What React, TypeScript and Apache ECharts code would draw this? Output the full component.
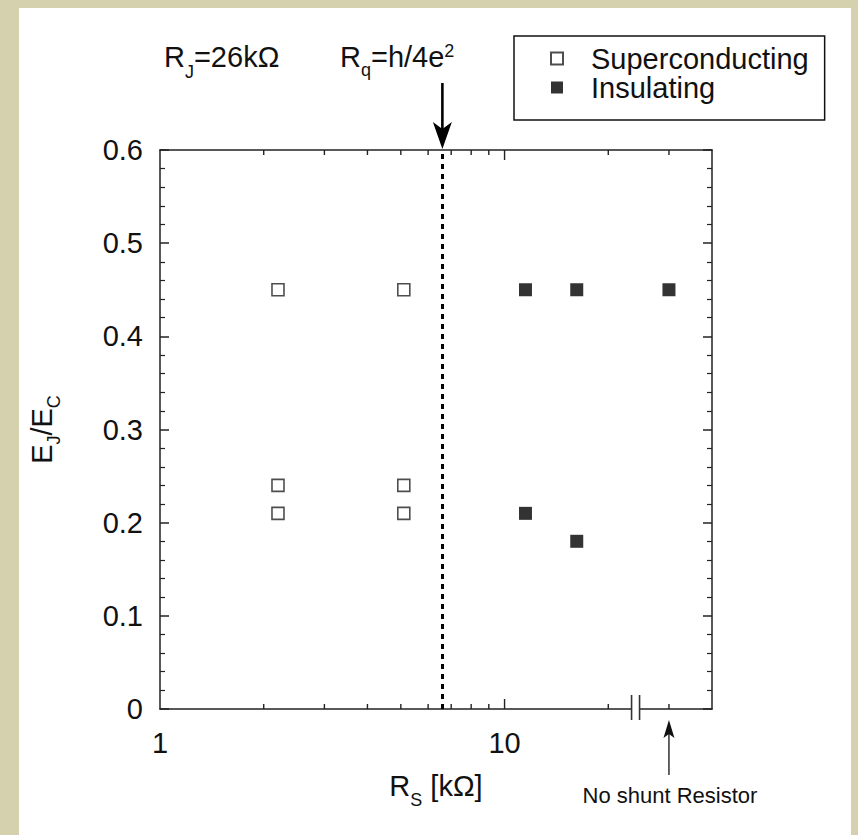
import { useEffect, useRef } from "react";
import * as echarts from "echarts";

// ---------------- data ----------------
const seriesNames = ["Superconducting", "Insulating"];
const superX = [2.2, 2.2, 2.2, 5.1, 5.1, 5.1];
const superY = [0.45, 0.24, 0.21, 0.45, 0.24, 0.21];
const insulX = [11.5, 16.2, 30, 11.5, 16.2];
const insulY = [0.45, 0.45, 0.45, 0.21, 0.18];

const xMin = 1;
const xMax = 40;
const yMin = 0;
const yMax = 0.6;
const yStep = 0.1;
const xLabelValues = [1, 10];
const xMinorTickValues = [2, 3, 4, 5, 6, 7, 8, 9, 20, 30];
const xMajorTickValues = [10];
const rqValue = 6.6; // R_q = h/4e^2 (kΩ)
const noShuntValue = 30;
const axisBreakValue = 24;

const FONT = '"Liberation Sans", Arial, Helvetica, sans-serif';
const INK = "#111";
const FS = 29;
const SUB = 18;

function buildOption() {
  const tickData = [
    ...xMinorTickValues.map((v) => [v, yMin, 5]),
    ...xMajorTickValues.map((v) => [v, yMin, 10]),
  ];
  return {
    animation: false,
    backgroundColor: "#d5d1ae",
    textStyle: { fontFamily: FONT, color: INK },
    graphic: [
      {
        type: "rect",
        z: -10,
        silent: true,
        shape: { x: 19, y: 8, width: 832, height: 840 },
        style: { fill: "#ffffff" },
      },
      {
        type: "text",
        x: 164,
        y: 57,
        silent: true,
        z: 10,
        style: {
          text: "{m|R}{s|J}{m|=26kΩ}",
          align: "left",
          verticalAlign: "middle",
          rich: {
            m: { fontSize: FS, fontFamily: FONT, fill: INK },
            s: { fontSize: SUB, fontFamily: FONT, fill: INK, padding: [30, 0, 0, 0] },
          },
        },
      },
      {
        type: "text",
        x: 340,
        y: 57,
        silent: true,
        z: 10,
        style: {
          text: "{m|R}{s|q}{m|=h/4e}{p|2}",
          align: "left",
          verticalAlign: "middle",
          rich: {
            m: { fontSize: FS, fontFamily: FONT, fill: INK },
            s: { fontSize: SUB, fontFamily: FONT, fill: INK, padding: [26, 0, 0, 0] },
            p: { fontSize: SUB, fontFamily: FONT, fill: INK, padding: [0, 0, 12, 0] },
          },
        },
      },
    ],
    legend: {
      orient: "vertical",
      left: 514,
      top: 36,
      data: seriesNames,
      icon: "rect",
      itemWidth: 12,
      itemHeight: 12,
      itemGap: 0,
      padding: [8, 16, 18, 36],
      borderColor: INK,
      borderWidth: 1.5,
      borderRadius: 0,
      textStyle: {
        fontSize: FS,
        color: INK,
        fontFamily: FONT,
        lineHeight: 26,
        padding: [0, 0, 0, 23],
      },
    },
    grid: { left: 160, top: 150, width: 552, height: 559, show: false },
    xAxis: [
      {
        type: "log",
        logBase: 10,
        min: xMin,
        max: xMax,
        position: "bottom",
        axisLine: { show: true, onZero: false, lineStyle: { color: "#222", width: 1.5 } },
        axisTick: { show: false },
        minorTick: { show: false },
        splitLine: { show: false },
        axisLabel: {
          fontSize: FS,
          color: INK,
          fontFamily: FONT,
          margin: 19,
          formatter: (v: number) => {
            const hit = xLabelValues.find((l) => Math.abs(l - v) < 1e-6);
            return hit === undefined ? "" : String(hit);
          },
        },
        name: "{m|R}{s|S}{m| [kΩ]}",
        nameLocation: "middle",
        nameGap: 54,
        nameTextStyle: {
          rich: {
            m: { fontSize: FS, color: INK, fontFamily: FONT },
            s: { fontSize: SUB, color: INK, fontFamily: FONT, padding: [28, 0, 0, 0] },
          },
        },
      },
      {
        type: "log",
        logBase: 10,
        min: xMin,
        max: xMax,
        position: "top",
        axisLine: { show: true, onZero: false, lineStyle: { color: "#222", width: 1.5 } },
        axisTick: { show: false },
        axisLabel: { show: false },
        splitLine: { show: false },
      },
    ],
    yAxis: [
      {
        type: "value",
        min: yMin,
        max: yMax,
        interval: yStep,
        position: "left",
        axisLine: { show: true, onZero: false, lineStyle: { color: "#222", width: 1.5 } },
        axisTick: { show: true, inside: true, length: 9, lineStyle: { color: "#222", width: 1.5 } },
        minorTick: { show: true, splitNumber: 5, length: 5, lineStyle: { color: "#222", width: 1.2 } },
        splitLine: { show: false },
        minorSplitLine: { show: false },
        axisLabel: { fontSize: FS, color: INK, fontFamily: FONT, margin: 17 },
        name: "{m|E}{s|J}{m|/E}{s|C}",
        nameLocation: "middle",
        nameRotate: 90,
        nameGap: 97,
        nameTextStyle: {
          rich: {
            m: { fontSize: FS, color: INK, fontFamily: FONT },
            s: { fontSize: SUB, color: INK, fontFamily: FONT, padding: [24, 0, 0, 0] },
          },
        },
      },
      {
        type: "value",
        min: yMin,
        max: yMax,
        interval: yStep,
        position: "right",
        axisLine: { show: true, onZero: false, lineStyle: { color: "#222", width: 1.5 } },
        axisTick: { show: true, inside: true, length: 9, lineStyle: { color: "#222", width: 1.5 } },
        minorTick: { show: true, splitNumber: 5, length: 5, lineStyle: { color: "#222", width: 1.2 } },
        splitLine: { show: false },
        minorSplitLine: { show: false },
        axisLabel: { show: false },
      },
    ],
    series: [
      {
        name: seriesNames[0],
        type: "scatter",
        xAxisIndex: 0,
        yAxisIndex: 0,
        data: superX.map((x, i) => [x, superY[i]]),
        symbol: "rect",
        symbolSize: 12,
        itemStyle: { color: "#ffffff", borderColor: "#222", borderWidth: 1.6 },
        z: 4,
        markLine: {
          silent: true,
          symbol: "none",
          label: { show: false },
          lineStyle: { color: "#000", width: 3, type: [5, 5] },
          data: [{ xAxis: rqValue }],
        },
      },
      {
        name: seriesNames[1],
        type: "scatter",
        xAxisIndex: 0,
        yAxisIndex: 0,
        data: insulX.map((x, i) => [x, insulY[i]]),
        symbol: "rect",
        symbolSize: 13,
        itemStyle: { color: "#000000" },
        z: 4,
      },
      {
        // x-axis tick marks (bottom and mirrored top) at log positions
        type: "custom",
        silent: true,
        xAxisIndex: 0,
        yAxisIndex: 0,
        clip: false,
        z: 5,
        data: tickData,
        encode: { x: 0, y: 1 },
        renderItem: (params: any, api: any) => {
          const px = api.coord([api.value(0), yMin])[0];
          const len = api.value(2);
          const cs = params.coordSys;
          const top = cs.y;
          const bottom = cs.y + cs.height;
          return {
            type: "group",
            children: [
              { type: "line", shape: { x1: px, y1: bottom, x2: px, y2: bottom - len }, style: { stroke: "#222", lineWidth: 1.4 } },
              { type: "line", shape: { x1: px, y1: top, x2: px, y2: top + len }, style: { stroke: "#222", lineWidth: 1.4 } },
            ],
          };
        },
      },
      {
        // axis break marks
        type: "custom",
        silent: true,
        xAxisIndex: 0,
        yAxisIndex: 0,
        clip: false,
        z: 6,
        data: [[axisBreakValue, yMin]],
        encode: { x: 0, y: 1 },
        renderItem: (params: any, api: any) => {
          const p = api.coord([api.value(0), api.value(1)]);
          return {
            type: "group",
            children: [
              { type: "rect", shape: { x: p[0] - 4, y: p[1] - 2, width: 8, height: 4 }, style: { fill: "#fff" } },
              { type: "line", shape: { x1: p[0] - 4, y1: p[1] - 14, x2: p[0] - 4, y2: p[1] + 11 }, style: { stroke: "#333", lineWidth: 1.6 } },
              { type: "line", shape: { x1: p[0] + 4, y1: p[1] - 14, x2: p[0] + 4, y2: p[1] + 11 }, style: { stroke: "#333", lineWidth: 1.6 } },
            ],
          };
        },
      },
      {
        // arrow pointing at R_q
        type: "custom",
        silent: true,
        xAxisIndex: 0,
        yAxisIndex: 0,
        clip: false,
        z: 6,
        data: [[rqValue, yMax]],
        encode: { x: 0, y: 1 },
        renderItem: (params: any, api: any) => {
          const p = api.coord([api.value(0), api.value(1)]);
          const x = p[0];
          const t = p[1];
          return {
            type: "group",
            children: [
              { type: "line", shape: { x1: x, y1: t - 67, x2: x, y2: t - 20 }, style: { stroke: "#000", lineWidth: 2.6 } },
              {
                type: "polygon",
                shape: { points: [[x, t - 1], [x - 9.5, t - 28], [x, t - 21], [x + 9.5, t - 28]] },
                style: { fill: "#000" },
              },
            ],
          };
        },
      },
      {
        // "No shunt Resistor" arrow and note
        type: "custom",
        silent: true,
        xAxisIndex: 0,
        yAxisIndex: 0,
        clip: false,
        z: 6,
        data: [[noShuntValue, yMin]],
        encode: { x: 0, y: 1 },
        renderItem: (params: any, api: any) => {
          const p = api.coord([api.value(0), api.value(1)]);
          const x = p[0];
          const b = p[1];
          return {
            type: "group",
            children: [
              { type: "line", shape: { x1: x, y1: b + 22, x2: x, y2: b + 66 }, style: { stroke: "#222", lineWidth: 1.4 } },
              {
                type: "polygon",
                shape: { points: [[x, b + 11], [x - 5.5, b + 29], [x, b + 25], [x + 5.5, b + 29]] },
                style: { fill: "#111" },
              },
              {
                type: "text",
                x: x + 1,
                y: b + 86,
                style: {
                  text: "No shunt Resistor",
                  fontSize: 22,
                  fontFamily: FONT,
                  fill: INK,
                  align: "center",
                  verticalAlign: "middle",
                },
              },
            ],
          };
        },
      },
    ],
  };
}

export default function App() {
  const ref = useRef<HTMLDivElement>(null);
  useEffect(() => {
    if (!ref.current) return;
    const chart = echarts.init(ref.current, null, { renderer: "svg" });
    chart.setOption(buildOption() as any);
    return () => {
      chart.dispose();
    };
  }, []);
  return (
    <div
      ref={ref}
      style={{ position: "fixed", left: 0, top: 0, width: 858, height: 835 }}
    />
  );
}
